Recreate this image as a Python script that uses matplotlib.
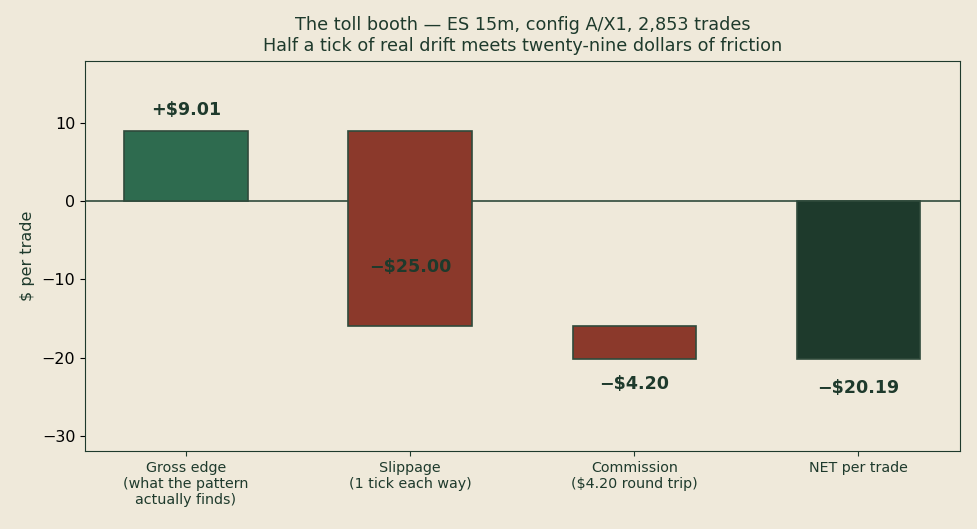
import matplotlib
matplotlib.use("Agg")
import matplotlib.pyplot as plt

categories = ["Gross edge\n(what the pattern\nactually finds)",
              "Slippage\n(1 tick each way)",
              "Commission\n($4.20 round trip)",
              "NET per trade"]
steps = [9.01, -25.00, -4.20]
net = 9.01 - 25.00 - 4.20
labels = ["+$9.01", "\u2212$25.00", "\u2212$4.20", "\u2212$20.19"]

BG = "#efe9da"
DARK = "#1e3a2c"
GREEN = "#2e6b4f"
RED = "#8b392b"

fig, ax = plt.subplots(figsize=(9.77, 5.29), dpi=100)
fig.patch.set_facecolor(BG)
ax.set_facecolor(BG)

bottoms = []
heights = []
run = 0.0
for s in steps:
    bottoms.append(run)
    heights.append(s)
    run += s
bottoms.append(0.0)
heights.append(net)
colors = [GREEN, RED, RED, DARK]
x = list(range(len(categories)))
ax.bar(x, heights, bottom=bottoms, width=0.55, color=colors,
       edgecolor="#2f4a3b", linewidth=1.2, zorder=3)
ax.axhline(0, color="#2f4a3b", linewidth=1.2, zorder=2)

# label positions relative to bars
tops = [b + h for b, h in zip(bottoms, heights)]
label_y = [tops[0] + 2.66, (bottoms[1] + tops[1]) / 2 - 4.97,
           tops[2] - 3.14, tops[3] - 3.66]
for xi, yi, t in zip(x, label_y, labels):
    ax.text(xi, yi, t, ha="center", va="center", fontsize=12.6,
            fontweight="bold", color=DARK, zorder=4)

ax.set_xlim(-0.45, 3.455)
ax.set_ylim(-32, 18)
ax.set_yticks([-30, -20, -10, 0, 10])
ax.set_xticks(x)
ax.set_xticklabels(categories, fontsize=10.3, color=DARK)
ax.tick_params(axis="y", labelsize=11.5, colors="black")
ax.tick_params(axis="x", colors=DARK, labelcolor=DARK)
for sp in ax.spines.values():
    sp.set_color(DARK)
ax.set_ylabel("$ per trade", fontsize=11.5, color=DARK, labelpad=5)
ax.set_title("The toll booth \u2014 ES 15m, config A/X1, 2,853 trades\n"
             "Half a tick of real drift meets twenty-nine dollars of friction",
             fontsize=12.7, color=DARK, pad=7.2)

fig.subplots_adjust(left=0.087, right=0.983, top=0.885, bottom=0.147)
fig.savefig("out.png", dpi=100, facecolor=BG)
